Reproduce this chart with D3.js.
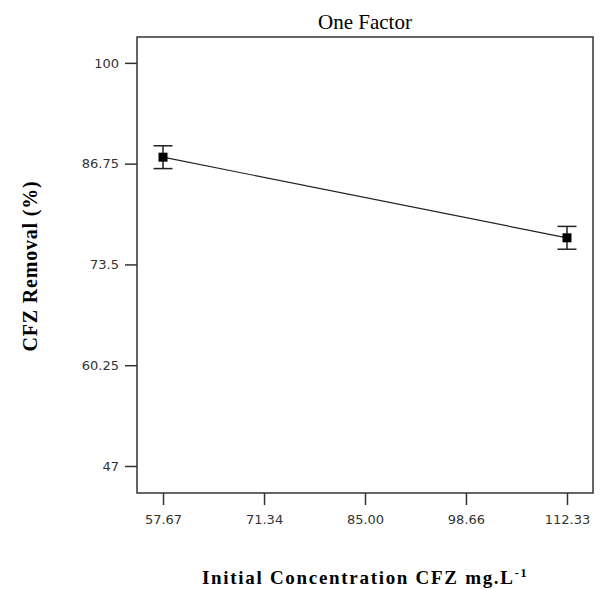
<!DOCTYPE html>
<html>
<head>
<meta charset="utf-8">
<script src="https://cdn.jsdelivr.net/npm/d3@7"></script>
<style>
    body { margin: 0; background: #fff; }
</style>
</head>
<body>
<div id="chart"></div>
<script>
const xTicks = [57.67, 71.34, 85.00, 98.66, 112.33];
const yTicks = [47, 60.25, 73.5, 86.75, 100];
const concentration = [57.67, 112.33];
const removal = [87.6, 77.0];
const errorLow = [86.1, 75.5];
const errorHigh = [89.1, 78.5];

const WIDTH = 601, HEIGHT = 589;
const MARGINS = {left: 137, right: 8, top: 37, bottom: 96};
const SERIF = "'Liberation Serif', 'Times New Roman', serif";
const SANS = "'DejaVu Sans', Tahoma, sans-serif";

let svg = d3.select("#chart")
    .append("svg")
    .attr("width", WIDTH)
    .attr("height", HEIGHT);

let plotW = WIDTH - MARGINS.left - MARGINS.right;
let plotH = HEIGHT - MARGINS.top - MARGINS.bottom;

let g = svg.append("g")
    .attr("transform", "translate(" + MARGINS.left + "," + MARGINS.top + ")");

let x = d3.scaleLinear()
    .domain([54.15, 115.85])
    .range([0, plotW]);

let y = d3.scaleLinear()
    .domain([43.45, 103.4])
    .range([plotH, 0]);

// frame
g.append("rect")
    .attr("width", plotW)
    .attr("height", plotH)
    .attr("fill", "none")
    .attr("stroke", "#333")
    .attr("stroke-width", 1.5);

let xAxis = g.append("g")
    .attr("transform", "translate(0," + plotH + ")")
    .call(d3.axisBottom(x).tickValues(xTicks).tickFormat(d3.format(".2f")).tickSize(12).tickPadding(10));

let yAxis = g.append("g")
    .call(d3.axisLeft(y).tickValues(yTicks).tickFormat(d => String(d)).tickSize(12).tickPadding(6));

[xAxis, yAxis].forEach(a => {
    a.select(".domain").remove();
    a.selectAll("line").attr("stroke", "#333").attr("stroke-width", 1.5);
    a.selectAll("text")
        .style("font-family", SANS)
        .style("font-size", "13px")
        .attr("fill", "#333");
});

let points = concentration.map((c, i) => ({c: c, v: removal[i], lo: errorLow[i], hi: errorHigh[i]}));

g.append("path")
    .datum(points)
    .attr("fill", "none")
    .attr("stroke", "#222")
    .attr("stroke-width", 1.2)
    .attr("d", d3.line().x(d => x(d.c)).y(d => y(d.v)));

let bars = g.selectAll(".err")
    .data(points)
    .enter()
    .append("g")
    .attr("class", "err")
    .attr("stroke", "#222")
    .attr("stroke-width", 1.5);

bars.append("line")
    .attr("x1", d => x(d.c)).attr("x2", d => x(d.c))
    .attr("y1", d => y(d.lo)).attr("y2", d => y(d.hi));
bars.append("line")
    .attr("x1", d => x(d.c) - 9.5).attr("x2", d => x(d.c) + 9.5)
    .attr("y1", d => y(d.lo)).attr("y2", d => y(d.lo));
bars.append("line")
    .attr("x1", d => x(d.c) - 9.5).attr("x2", d => x(d.c) + 9.5)
    .attr("y1", d => y(d.hi)).attr("y2", d => y(d.hi));

g.selectAll(".mark")
    .data(points)
    .enter()
    .append("rect")
    .attr("x", d => x(d.c) - 4.5)
    .attr("y", d => y(d.v) - 4.5)
    .attr("width", 9)
    .attr("height", 9)
    .attr("fill", "#000");

svg.append("text")
    .attr("x", MARGINS.left + plotW / 2)
    .attr("y", 29)
    .attr("text-anchor", "middle")
    .style("font-family", SERIF)
    .style("font-size", "21px")
    .text("One Factor");

svg.append("text")
    .attr("transform", "translate(37,266) rotate(-90)")
    .attr("text-anchor", "middle")
    .style("font-family", SERIF)
    .style("font-size", "20px")
    .style("font-weight", "bold")
    .style("letter-spacing", "0.8px")
    .text("CFZ Removal (%)");

let xLabel = svg.append("text")
    .attr("x", 365)
    .attr("y", 584)
    .attr("text-anchor", "middle")
    .style("font-family", SERIF)
    .style("font-size", "19px")
    .style("font-weight", "bold")
    .style("letter-spacing", "1.7px");
xLabel.append("tspan").text("Initial Concentration CFZ mg.L");
xLabel.append("tspan")
    .attr("dy", -7)
    .style("font-size", "12px")
    .text("-1");
</script>
</body>
</html>
